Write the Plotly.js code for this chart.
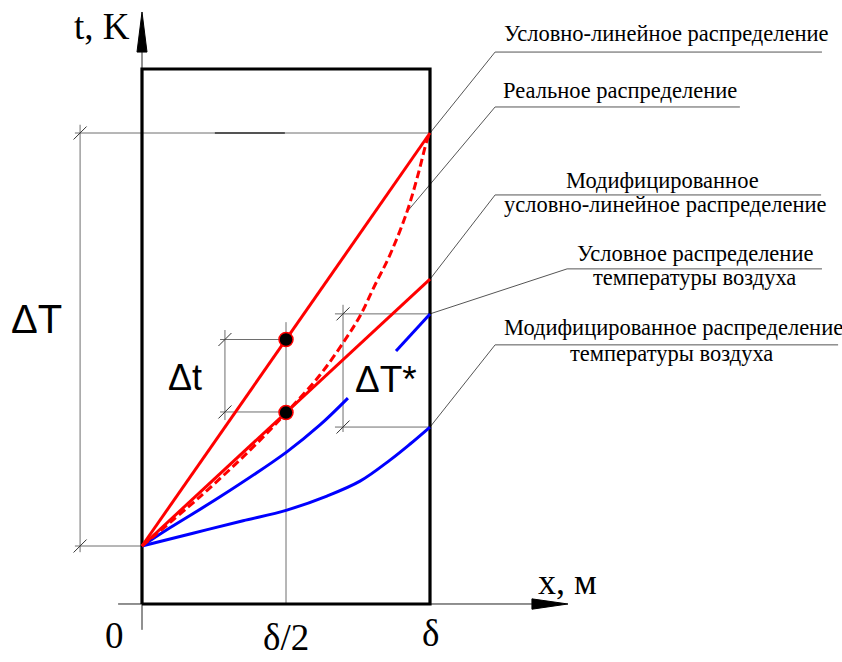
<!DOCTYPE html>
<html>
<head>
<meta charset="utf-8">
<script src="https://cdn.plot.ly/plotly-3.0.1.min.js"></script>
<style>html,body{margin:0;padding:0;background:#fff;}#chart{width:842px;height:662px;}</style>
</head>
<body>
<div id="chart"></div>
<script>
// x in units of wall thickness δ, t in units of ΔT (t0 = 0)
const xTickVals = [0, 0.5, 1];
const xTickText = ['0', 'δ/2', 'δ'];

// Условно-линейное распределение
const linX = [0, 1];
const linT = [0, 1];
// Модифицированное условно-линейное распределение
const modLinX = [0, 1];
const modLinT = [0, 0.646];
// Реальное распределение (dashed)
const realX = [0, 0.201, 0.375, 0.5, 0.618, 0.705, 0.757, 0.809, 0.861, 0.92, 0.958, 0.99, 1];
const realT = [0, 0.119, 0.232, 0.322, 0.414, 0.499, 0.557, 0.632, 0.705, 0.809, 0.898, 0.983, 1];
// Условное распределение температуры воздуха (two pieces)
const airX1 = [0, 0.097, 0.271, 0.503, 0.618, 0.715];
const airT1 = [0, 0.044, 0.119, 0.228, 0.293, 0.358];
const airX2 = [0.882, 1];
const airT2 = [0.472, 0.562];
// Модифицированное распределение температуры воздуха
const modAirX = [0, 0.177, 0.351, 0.503, 0.642, 0.757, 0.861, 0.931, 1];
const modAirT = [0, 0.031, 0.061, 0.087, 0.121, 0.157, 0.208, 0.247, 0.288];
// points at δ/2
const dotX = [0.5, 0.5];
const dotT = [0.5, 0.323];

// wall box
const boxX = [0, 1, 1, 0, 0];
const boxT = [-0.1404, -0.1404, 1.155, 1.155, -0.1404];

// dimension lines
const dimLinesX = [
  [-0.233, 1], [-0.233, 0], [-0.215, -0.215],
  [0.271, 0.5], [0.271, 0.5], [0.288, 0.288],
  [0.67, 1], [0.67, 1], [0.698, 0.698],
  [0.5, 0.5]
];
const dimLinesT = [
  [1, 1], [0, 0], [1.02, -0.015],
  [0.5, 0.5], [0.3245, 0.3245], [0.523, 0.305],
  [0.562, 0.562], [0.288, 0.288], [0.584, 0.276],
  [0.542, -0.1404]
];
const dimTickX = [-0.215, -0.215, 0.288, 0.288, 0.698, 0.698];
const dimTickT = [1, 0, 0.5, 0.3245, 0.562, 0.288];
const darkSegX = [0.253, 0.496];
const darkSegT = [1, 1];

// axes
const yAxisX = [0, 0];
const yAxisT = [-0.203, 1.196];
const yArrowX = [0, -0.0174, 0.0174, 0];
const yArrowT = [1.293, 1.196, 1.196, 1.293];
const xAxisX = [-0.083, 1.354];
const xAxisT = [-0.1404, -0.1404];
const xArrowX = [1.479, 1.354, 1.354, 1.479];
const xArrowT = [-0.1404, -0.128, -0.153, -0.1404];

// leader lines
const leaderX = [
  [1, 1.226, 2.361],
  [0.92, 1.226, 2.076],
  [1, 1.226, 2.358],
  [1, 1.476, 2.361],
  [1, 1.226, 2.417]
];
const leaderT = [
  [1, 1.196, 1.196],
  [0.809, 1.063, 1.063],
  [0.646, 0.85, 0.85],
  [0.562, 0.671, 0.671],
  [0.288, 0.487, 0.487]
];

// legend texts
const labelText = [
  'Условно-линейное распределение',
  'Реальное распределение',
  'Модифицированное',
  'условно-линейное распределение',
  'Условное распределение',
  'температуры воздуха',
  'Модифицированное распределение',
  'температуры воздуха'
];
const labelX = [1.2500, 1.2465, 1.8060, 1.2500, 1.9201, 1.9201, 1.2500, 1.8368];
const labelT = [1.242, 1.104, 0.884, 0.826, 0.709, 0.649, 0.528, 0.465];
const labelAnchor = ['left', 'left', 'center', 'left', 'center', 'center', 'left', 'center'];

const grey = '#6e6e6e';
const traces = [];
function line(x, y, color, width, dash) {
  traces.push({x: x, y: y, mode: 'lines', type: 'scatter',
    line: {color: color, width: width, dash: dash || 'solid'}, hoverinfo: 'skip'});
}
for (let i = 0; i < dimLinesX.length; i++) line(dimLinesX[i], dimLinesT[i], grey, 1);
line(darkSegX, darkSegT, '#333', 1.5);
for (let i = 0; i < leaderX.length; i++) line(leaderX[i], leaderT[i], '#555', 1);
traces.push({x: dimTickX, y: dimTickT, mode: 'markers', type: 'scatter', hoverinfo: 'skip',
  marker: {symbol: 'line-ne-open', size: 13, color: '#333', line: {color: '#333', width: 1}}});
line(yAxisX, yAxisT, '#222', 1);
line(xAxisX, xAxisT, '#222', 1);
traces.push({x: yArrowX, y: yArrowT, mode: 'lines', fill: 'toself', fillcolor: '#000',
  line: {color: '#000', width: 1}, type: 'scatter', hoverinfo: 'skip'});
traces.push({x: xArrowX, y: xArrowT, mode: 'lines', fill: 'toself', fillcolor: '#000',
  line: {color: '#000', width: 1}, type: 'scatter', hoverinfo: 'skip'});
line(boxX, boxT, '#000', 3.2);

line(modAirX, modAirT, '#0000ff', 3);
traces[traces.length - 1].line.shape = 'spline';
line(airX1, airT1, '#0000ff', 3);
traces[traces.length - 1].line.shape = 'spline';
line(airX2, airT2, '#0000ff', 3);
line(realX, realT, '#ff0000', 3, '8px,4px');
traces[traces.length - 1].line.shape = 'spline';
line(linX, linT, '#ff0000', 3);
line(modLinX, modLinT, '#ff0000', 3);
traces.push({x: dotX, y: dotT, mode: 'markers', type: 'scatter', hoverinfo: 'skip',
  marker: {color: '#000', size: 14, line: {color: '#ff0000', width: 1.5}}});

const annotations = [];
for (let i = 0; i < labelText.length; i++) {
  annotations.push({x: labelX[i], y: labelT[i], text: labelText[i], showarrow: false,
    xanchor: labelAnchor[i], yanchor: 'middle',
    font: {family: 'Liberation Serif', size: 22.5, color: '#000'}});
}
// x tick labels
const tickT = [-0.216, -0.2755, -0.211];
const tickAnchor = ['middle', 'bottom', 'middle'];
for (let i = 0; i < xTickVals.length; i++) {
  annotations.push({x: xTickVals[i] + (i === 0 ? -0.094 : 0), y: tickT[i], text: xTickText[i],
    showarrow: false, xanchor: 'center', yanchor: tickAnchor[i],
    font: {family: 'Liberation Serif', size: 37, color: '#000'}});
}
annotations.push({x: -0.139, y: 1.257, text: 't, K', showarrow: false, xanchor: 'center', yanchor: 'middle',
  font: {family: 'Liberation Serif', size: 37, color: '#000'}});
annotations.push({x: 1.476, y: -0.087, text: 'x, м', showarrow: false, xanchor: 'center', yanchor: 'middle',
  font: {family: 'Liberation Serif', size: 36, color: '#000'}});
annotations.push({x: -0.365, y: 0.55, text: 'ΔT', showarrow: false, xanchor: 'center', yanchor: 'middle',
  font: {family: 'Liberation Sans', size: 40, color: '#000'}});
annotations.push({x: 0.149, y: 0.407, text: 'Δt', showarrow: false, xanchor: 'center', yanchor: 'middle',
  font: {family: 'Liberation Sans', size: 36, color: '#000'}});
annotations.push({x: 0.847, y: 0.402, text: 'ΔT*', showarrow: false, xanchor: 'center', yanchor: 'middle',
  font: {family: 'Liberation Sans', size: 37, color: '#000'}});

const layout = {
  width: 842, height: 662,
  margin: {l: 0, r: 0, t: 0, b: 0, pad: 0},
  paper_bgcolor: '#fff', plot_bgcolor: '#fff',
  showlegend: false, hovermode: false,
  xaxis: {range: [-142 / 288, 700 / 288], visible: false, fixedrange: true},
  yaxis: {range: [-116 / 413, 546 / 413], visible: false, fixedrange: true},
  annotations: annotations
};
Plotly.newPlot('chart', traces, layout, {staticPlot: true, displayModeBar: false});
</script>
</body>
</html>
